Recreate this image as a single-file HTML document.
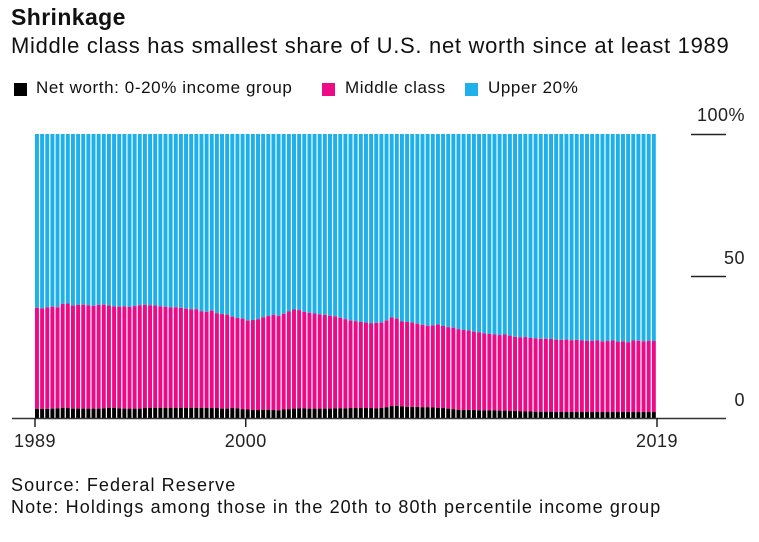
<!DOCTYPE html>
<html><head><meta charset="utf-8"><style>
body{margin:0;background:#fff;width:759px;height:542px;overflow:hidden;font-family:"Liberation Sans",Arial,sans-serif;color:#111}
.t{position:absolute;white-space:nowrap}
.sw{position:absolute;top:83px;width:13px;height:13px}
.lg{position:absolute;top:78px;font-size:17px;letter-spacing:0.6px;white-space:nowrap}
</style></head><body>
<div class="t" style="left:11px;top:4px;font-size:23px;font-weight:bold;letter-spacing:0.4px">Shrinkage</div>
<div class="t" style="left:11px;top:33px;font-size:22px;letter-spacing:0.7px">Middle class has smallest share of U.S. net worth since at least 1989</div>
<div>
<div class="sw" style="left:14px;background:#000"></div>
<div class="lg" style="left:36px">Net worth: 0-20% income group</div>
<div class="sw" style="left:322px;background:#ee0a87"></div>
<div class="lg" style="left:345px">Middle class</div>
<div class="sw" style="left:465px;background:#1db0ea"></div>
<div class="lg" style="left:488px">Upper 20%</div>
</div>
<svg id="chart" width="759" height="542" style="position:absolute;left:0;top:0"></svg>
<div class="t" style="left:11px;top:475px;font-size:18px;letter-spacing:1.1px">Source: Federal Reserve</div>
<div class="t" style="left:11px;top:497px;font-size:18px;letter-spacing:1.1px">Note: Holdings among those in the 20th to 80th percentile income group</div>
<script>
const cumTop=[38.8,38.6,38.9,39.2,39.0,40.2,40.3,39.6,39.8,39.9,39.7,
39.5,39.8,39.9,39.6,39.3,39.2,39.3,39.1,39.4,39.7,
39.8,39.7,39.6,39.3,39.2,38.9,39.0,38.8,38.5,38.3,
38.3,37.6,37.4,37.8,36.9,36.6,36.4,35.7,35.2,35.0,
34.3,34.5,34.8,35.5,35.9,36.3,36.0,36.7,37.5,38.2,
38.0,37.4,37.0,36.8,36.5,36.3,36.0,35.8,35.3,34.8,
34.3,34.1,33.8,33.6,33.4,33.5,33.6,34.3,35.4,35.0,
34.0,33.8,33.6,33.2,32.8,32.5,32.6,32.9,32.4,32.0,
31.8,31.3,31.0,30.8,30.4,30.2,29.8,29.6,29.4,29.2,
29.4,29.0,28.6,28.4,28.5,28.2,28.0,27.9,27.9,27.8,
27.6,27.5,27.6,27.4,27.5,27.3,27.2,27.2,27.3,27.0,
27.1,27.3,26.9,27.0,26.7,27.3,27.2,27.0,27.2,27.1];
const bottom=[3.2,3.2,3.2,3.3,3.4,3.6,3.5,3.3,3.3,3.3,3.3,
3.3,3.3,3.4,3.6,3.6,3.4,3.3,3.3,3.3,3.3,
3.5,3.6,3.6,3.6,3.6,3.6,3.6,3.6,3.6,3.6,
3.6,3.6,3.6,3.5,3.5,3.3,3.3,3.5,3.4,3.1,
3.0,2.8,2.8,2.9,2.9,2.8,2.7,3.0,3.1,3.3,
3.4,3.4,3.3,3.3,3.3,3.3,3.3,3.4,3.4,3.4,
3.5,3.5,3.5,3.5,3.5,3.4,3.6,3.8,4.2,4.3,
4.1,3.9,3.9,3.9,3.8,3.8,3.7,3.6,3.5,3.3,
3.1,2.9,2.8,2.8,2.8,2.7,2.7,2.7,2.7,2.6,
2.6,2.5,2.5,2.4,2.3,2.3,2.2,2.2,2.2,2.2,
2.1,2.1,2.1,2.1,2.1,2.1,2.1,2.1,2.1,2.1,
2.1,2.1,2.1,2.1,2.1,2.1,2.1,2.1,2.1,2.1];
const yTicks=[0,50,100];
const yTickLabels=["0","50","100%"];
const xTickIdx=[0,41,120];
const xTickLabels=["1989","2000","2019"];
const svg=document.getElementById('chart');
const NS='http://www.w3.org/2000/svg';
const x0=35,x1=657,y0=418,y100=134;
const n=cumTop.length,pitch=(x1-x0)/n;
const X=i=>x0+i*pitch;
const Y=v=>y0-(v/100)*(y0-y100);
function mk(t,a){const e=document.createElementNS(NS,t);for(const k in a)e.setAttribute(k,a[k]);svg.appendChild(e);return e;}
for(let i=0;i<n;i++){
 const bx=X(i),bw=pitch-1.2;
 let r=mk('rect',{x:bx,y:Y(100),width:bw,height:Y(cumTop[i])-Y(100),fill:'#1db0ea'});
 
 
 r=mk('rect',{x:bx,y:Y(cumTop[i]),width:bw,height:Y(bottom[i])-Y(cumTop[i]),fill:'#ee0a87'});
 
 
 r=mk('rect',{x:bx,y:Y(bottom[i]),width:bw,height:y0-Y(bottom[i]),fill:'#000'});
 
 
}
let ax=mk('line',{x1:12,x2:726,y1:y0+0.5,y2:y0+0.5,stroke:'#333','stroke-width':1.5});


yTicks.forEach((v,k)=>{
 if(v>0){const l=mk('line',{x1:691,x2:726,y1:Y(v)+0.5,y2:Y(v)+0.5,stroke:'#222','stroke-width':1.5});
 
 }
 const t=mk('text',{x:745,y:Y(v)-(v===100?13:12),'text-anchor':'end','font-size':18,fill:'#222','letter-spacing':0.5});
 t.textContent=yTickLabels[k];
 
 
});
xTickIdx.forEach((idx,k)=>{
 const px=idx===n-1?x1:X(idx);
 const l=mk('line',{x1:px,x2:px,y1:y0,y2:y0+9,stroke:'#222','stroke-width':1.5});
 
 
 const t=mk('text',{x:px,y:447,'text-anchor':'middle','font-size':18,fill:'#222','letter-spacing':0.5});
 t.textContent=xTickLabels[k];
 
 
});
</script>
</body></html>
